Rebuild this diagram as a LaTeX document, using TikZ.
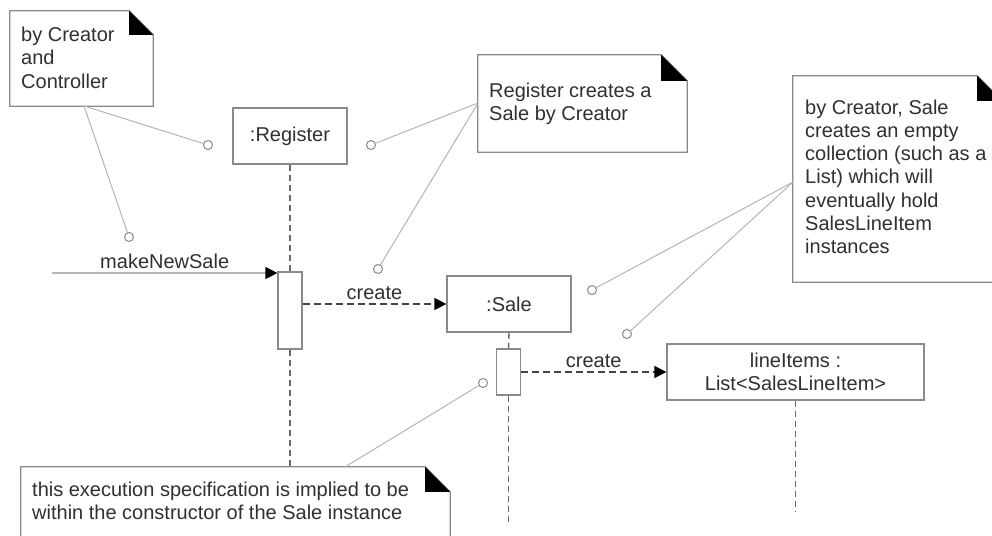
\documentclass[tikz,border=0pt]{standalone}
\usepackage{fontspec}
\setmainfont{Liberation Sans}
\usetikzlibrary{arrows.meta}
\definecolor{txt}{HTML}{303030}
\definecolor{boxc}{HTML}{8A8A8A}
\definecolor{linkc}{HTML}{B4B4B4}
\definecolor{lifec}{HTML}{6A6A6A}
\definecolor{msgc}{HTML}{444444}
\newcommand\drawnotefold[2]{%
  \draw[noteline] (#1.north west) -- ([xshift=-#2pt]#1.north east) -- ([yshift=-#2pt]#1.north east) -- (#1.south east) -- (#1.south west) -- cycle;
  \fill[black] ([xshift=-#2pt]#1.north east) -- ([xshift=-#2pt,yshift=-#2pt]#1.north east) -- ([yshift=-#2pt]#1.north east) -- cycle;}
\begin{document}
\begin{tikzpicture}[x=1pt,y=-1pt,
  font=\fontsize{20}{23.3}\selectfont, text=txt,
  box/.style={draw=boxc, line width=1.2pt, fill=white, inner sep=0pt, align=center},
  notebg/.style={fill=white, inner sep=0pt},
  noteline/.style={draw=boxc, line width=1.2pt},
  notetext/.style={anchor=base west, inner sep=0pt},
  hook/.style={circle, draw=boxc, line width=1pt, fill=white, minimum size=9pt, inner sep=0pt},
  link/.style={draw=linkc, line width=1pt},
  lifeline/.style={draw=lifec, line width=1.4pt, dash pattern=on 6pt off 4pt},
  tip/.style={-{Triangle[length=12pt,width=12pt,color=black]}},
  callmsg/.style={draw=linkc, line width=1.2pt, tip},
  createmsg/.style={draw=msgc, line width=1.2pt, dash pattern=on 7pt off 4pt, tip},
  lbl/.style={above, inner sep=4pt, text=txt}
]
\useasboundingbox (0,0) rectangle (992,535);
\clip (0,0) rectangle (992,535);

% lifeline heads and activations
\node[box, minimum width=114pt, minimum height=56pt] (reg) at (290,136) {:Register};
\node[box, minimum width=124pt, minimum height=56pt] (sale) at (509,304) {:Sale};
\node[box, minimum width=257pt, minimum height=56pt] (li) at (795.5,372) {lineItems :\\List<SalesLineItem>};
\node[box, minimum width=24pt, minimum height=77pt] (a1) at (290,310.5) {};
\node[box, minimum width=24pt, minimum height=46pt] (a2) at (508.5,372) {};

\coordinate (regend) at (290,467);
\coordinate (saleend) at (508.5,523);
\coordinate (liend) at (795.5,512);
\draw[lifeline] (reg.south) -- (a1.north);
\draw[lifeline] (a1.south) -- (regend);
\draw[lifeline] (sale.south) -- (a2.north);
\draw[lifeline] (a2.south) -- (saleend);
\draw[lifeline] (li.south) -- (liend);

% messages
\coordinate (start) at (52,273);
\draw[callmsg] (start) -- node[lbl] (m1) {makeNewSale} (start -| a1.west);
\draw[createmsg] (a1.east |- sale.west) -- node[lbl] (m2) {create} (sale.west);
\draw[createmsg] (a2.east) -- node[lbl] (m3) {create} (li.west);

% notes
\node[notebg, minimum width=143pt, minimum height=95pt] (n1) at (81.5,58.5) {};
\node[notebg, minimum width=209pt, minimum height=97pt] (n2) at (582.5,103.5) {};
\node[notebg, minimum width=209pt, minimum height=206pt] (n3) at (897.5,179) {};
\node[notebg, minimum width=429pt, minimum height=78pt] (n4) at (235.5,506) {};
\drawnotefold{n1}{24}
\drawnotefold{n2}{26}
\drawnotefold{n3}{25}
\drawnotefold{n4}{25}

\node[notetext] (t1) at (21,41.5) {\vtop{\hbox{by Creator}\hbox{and}\hbox{Controller}}};
\node[notetext] (t2) at (489,97) {\vtop{\hbox{Register creates a}\hbox{Sale by Creator}}};
\node[notetext] (t3) at (805,114) {\vtop{\hbox{by Creator, Sale}\hbox{creates an empty}\hbox{collection (such as a}\hbox{List) which will}\hbox{eventually hold}\hbox{SalesLineItem}\hbox{instances}}};
\node[notetext] (t4) at (32,496) {\vtop{\hbox{this execution specification is implied to be}\hbox{within the constructor of the Sale instance}}};

% note anchors and hooks
\coordinate (p1) at (84,106);
\coordinate (p2) at (478,103);
\coordinate (p3) at (793,182);
\coordinate (p4) at (345,467);
\node[hook] (c1) at (208,145) {};
\node[hook] (c2) at (371,145) {};
\node[hook] (c3) at (129,237) {};
\node[hook] (c4) at (378,269) {};
\node[hook] (c5) at (592,290) {};
\node[hook] (c6) at (627,334) {};
\node[hook] (c7) at (483,383) {};
\draw[link] (p1) -- (c1);
\draw[link] (p1) -- (c3);
\draw[link] (p2) -- (c2);
\draw[link] (p2) -- (c4);
\draw[link] (p3) -- (c5);
\draw[link] (p3) -- (c6);
\draw[link] (p4) -- (c7);
\end{tikzpicture}
\end{document}
